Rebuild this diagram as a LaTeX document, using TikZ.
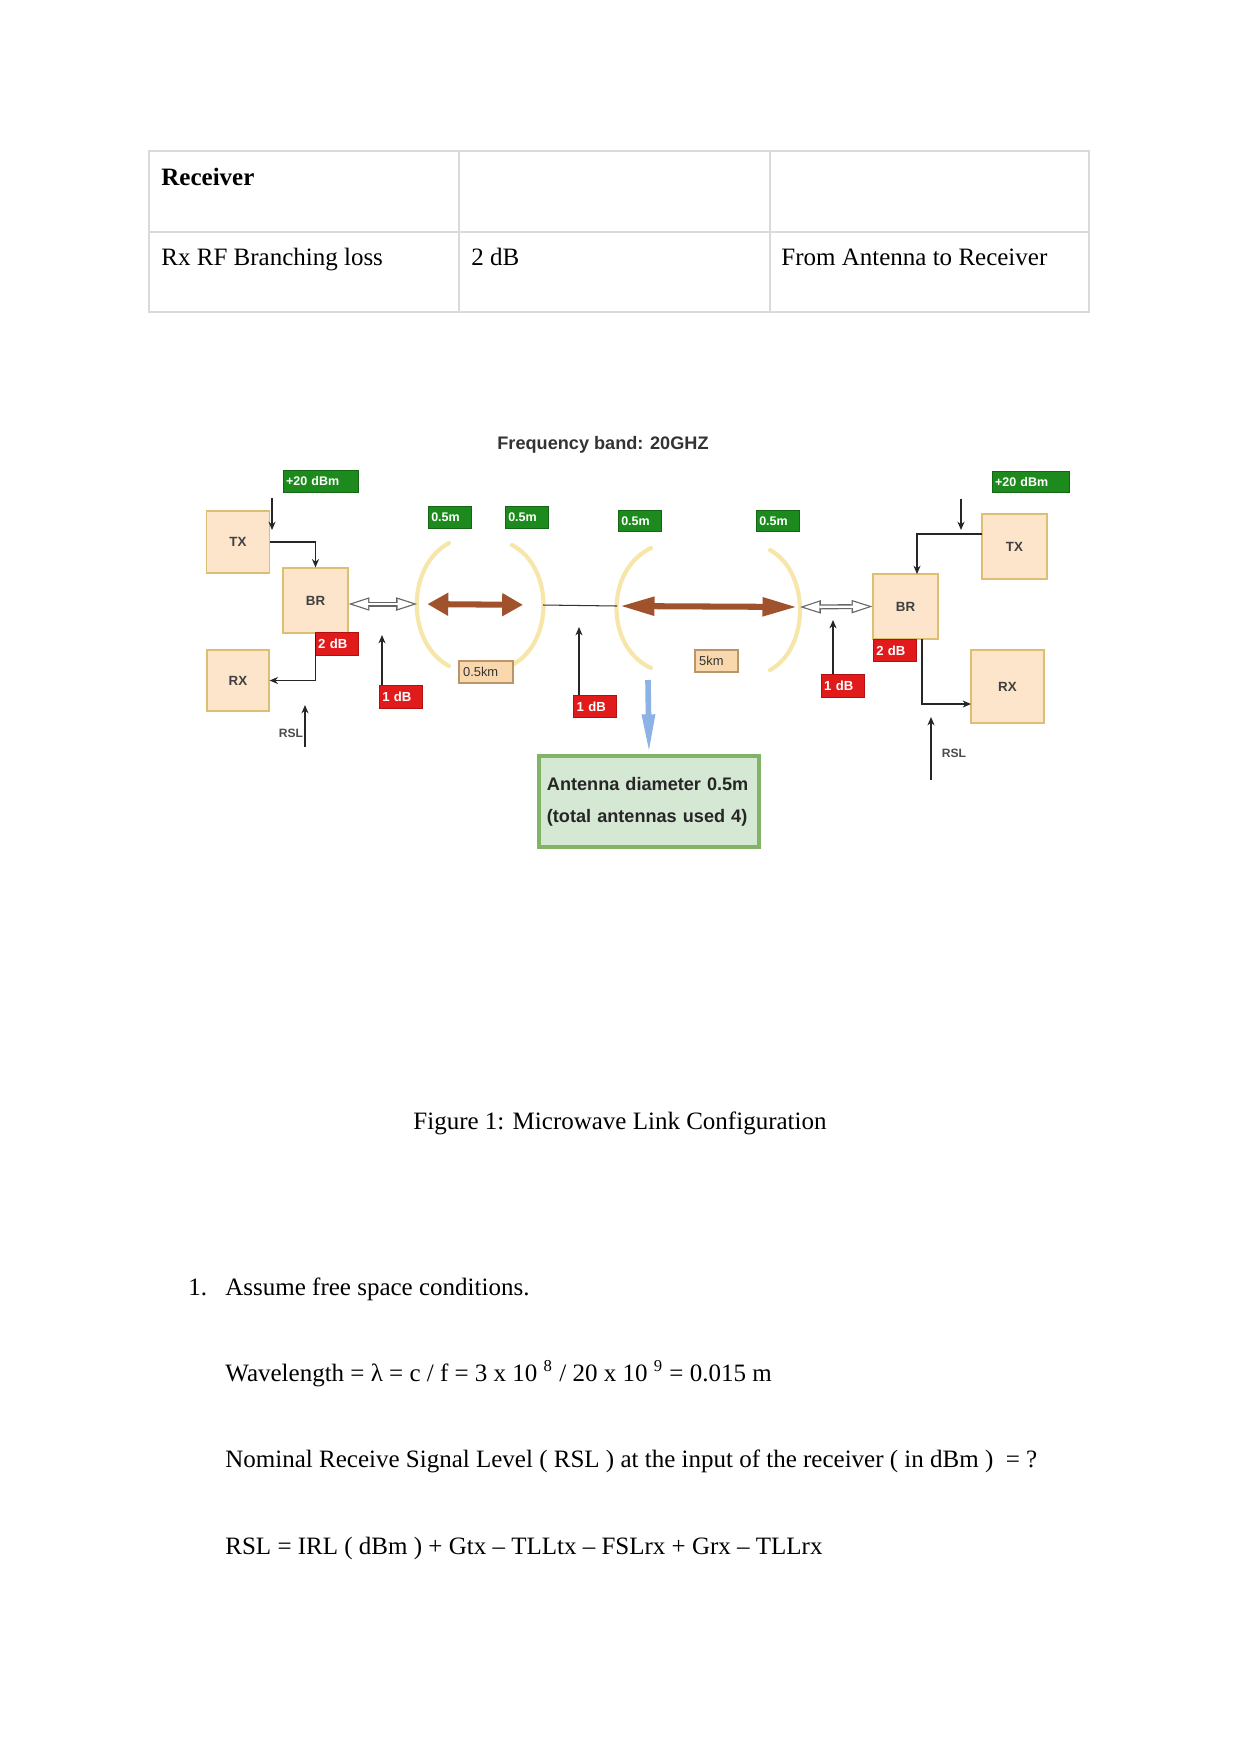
\documentclass[tikz,border=0pt]{standalone}
\usepackage{fontspec}
\setmainfont{Liberation Serif}
\setsansfont{Liberation Sans}
\usepackage{tikz}
\usetikzlibrary{arrows.meta, positioning}

\definecolor{unitfill}{HTML}{FCE5CB}
\definecolor{unitline}{HTML}{DDBE72}
\definecolor{taggreen}{HTML}{1D8A1D}
\definecolor{taggreendk}{HTML}{146614}
\definecolor{tagred}{HTML}{E11B1B}
\definecolor{tagreddk}{HTML}{B01010}
\definecolor{dishcol}{HTML}{F7E6AA}
\definecolor{linkcol}{HTML}{A0522D}
\definecolor{notefill}{HTML}{D5E8D4}
\definecolor{noteline}{HTML}{82B366}
\definecolor{distfill}{HTML}{FAD8AE}
\definecolor{distline}{HTML}{B8966A}
\definecolor{beamcol}{HTML}{8DB2E6}
\definecolor{rulecol}{HTML}{DADADA}

\begin{document}
\begin{tikzpicture}[
    x=0.48pt, y=-0.48pt,
    >={Stealth[length=4pt,width=3.4pt]},
    font=\fontsize{12}{14}\selectfont,
    %% ── node styles ──────────────────────────────────────────
    pagetext/.style = {inner sep=0pt, anchor=base west},
    unitbox/.style  = {draw=unitline, fill=unitfill, line width=0.6pt, text=black!75,
                       font=\sffamily\bfseries\fontsize{6.4}{7}\selectfont},
    greentag/.style = {draw=taggreendk, fill=taggreen, text=white, inner sep=1.5pt,
                       minimum height=10.2pt, align=left,
                       font=\sffamily\bfseries\fontsize{6}{7}\selectfont},
    redtag/.style   = {greentag, draw=tagreddk, fill=tagred, minimum height=10.8pt,
                       font=\sffamily\bfseries\fontsize{6.3}{7}\selectfont},
    disttag/.style  = {draw=distline, fill=distfill, line width=0.6pt, inner sep=2pt,
                       minimum height=10.6pt, align=left, text=black!80,
                       font=\sffamily\fontsize{6.2}{7}\selectfont},
    notebox/.style  = {draw=noteline, fill=notefill, line width=2pt, inner sep=3.8pt,
                       minimum height=43.7pt, text width=98pt, align=left, text=black!85,
                       font=\sffamily\bfseries\fontsize{8.7}{15.4}\selectfont},
    rsltext/.style  = {inner sep=0pt, text=black!70,
                       font=\sffamily\bfseries\fontsize{5.8}{7}\selectfont},
    %% ── line styles ──────────────────────────────────────────
    sigarrow/.style = {->, draw=black!85, line width=0.6pt},
    dishline/.style = {draw=dishcol, line width=2pt, line cap=round},
    linkarrow/.style = {draw=linkcol, line width=2.9pt},
    shortlink/.style = {linkarrow,
                        arrows={Triangle[length=10pt,width=10.5pt]-Triangle[length=10pt,width=10.5pt]}},
    longlink/.style  = {linkarrow,
                        arrows={Triangle[length=16.5pt,width=8.5pt]-Triangle[length=16.5pt,width=8.5pt]}},
    hollowarrow/.style = {draw=black!60, line width=2.4pt,
                          arrows={Triangle[length=10pt,width=6.5pt,line width=0pt]-Triangle[length=10pt,width=6.5pt,line width=0pt]},
                          postaction={draw=white, line width=1.1pt, shorten <=1.9pt, shorten >=1.9pt,
                          arrows={Triangle[length=7.4pt,width=4.8pt,line width=0pt]-Triangle[length=7.4pt,width=4.8pt,line width=0pt]}}},
    beamarrow/.style = {draw=beamcol, line width=2.7pt, arrows={-Triangle[length=19pt,width=5.8pt]}},
    tablerule/.style = {draw=rulecol, line width=1pt}
]

%% ── page ─────────────────────────────────────────────────────
\fill[white] (0,0) rectangle (1241,1754);
\useasboundingbox (0,0) rectangle (1241,1754);

%% ── table ────────────────────────────────────────────────────
\draw[tablerule] (149,151) rectangle (1089,312);
\draw[tablerule] (149,232) -- (1089,232);
\draw[tablerule] (459,151) -- (459,312);
\draw[tablerule] (770,151) -- (770,312);

\node[pagetext] (cellRecv) at (161,185) {\bfseries Receiver};
\node[pagetext] (cellLoss) at (161,265) {Rx RF Branching loss};
\node[pagetext] (cellVal)  at (471,265) {2 dB};
\node[pagetext] (cellNote) at (781,265) {From Antenna to Receiver};

%% ── title ────────────────────────────────────────────────────
\node[text=black!80, font=\sffamily\bfseries\fontsize{8.7}{10}\selectfont]
    (band) at (603,445) {Frequency band: 20GHZ};

%% ── left terminal ────────────────────────────────────────────
\node[unitbox, minimum width=30.2pt, minimum height=29.8pt] (txL) at (238,542) {TX};
\node[unitbox, minimum size=31.2pt] (brL) at (315.5,600.5) {BR};
\node[unitbox, minimum width=29.8pt, minimum height=29.3pt] (rxL) at (238,680.5) {RX};

\node[greentag, text width=33pt]  (pwrL)    at (320.5,481.5) {+20 dBm};
\node[redtag, text width=17.6pt]  (brlossL) at (336.5,644)   {2 dB};
\node[redtag, text width=18pt]    (fdlossL) at (401,697)     {1 dB};
\node[rsltext] (rslL) at (291,733) {RSL};

\coordinate (pwrLin)  at (272,498);
\coordinate (pwrLend) at (272,530);
\coordinate (fdLtip)  at (382,635);
\coordinate (rslLin)  at (305,747);
\coordinate (rslLtip) at (305,705);

%% ── antennas and path ────────────────────────────────────────
\coordinate (ant1in)  at (417,604);
\coordinate (ant1out) at (543,605);
\coordinate (ant2in)  at (617,606);
\coordinate (ant2out) at (800,607);

\draw[dishline] (449,543) .. controls (406,566) and (406,643) .. (449,666);
\draw[dishline] (512,545) .. controls (554,567) and (554,643) .. (512,665);
\draw[dishline] (651,548) .. controls (605,570) and (605,647) .. (651,668);
\draw[dishline] (770,550) .. controls (810,572) and (810,648) .. (770,670);

\node[greentag, text width=18pt] (dia1) at (450,517.5) {0.5m};
\node[greentag, text width=18pt] (dia2) at (527,517.5) {0.5m};
\node[greentag, text width=18pt] (dia3) at (640,521)   {0.5m};
\node[greentag, text width=18pt] (dia4) at (778,521)   {0.5m};

\node[disttag, text width=22pt]   (feedL) at (486,672)   {0.5km};
\node[disttag, text width=16.6pt] (hop)   at (716.5,661) {5km};
\node[redtag, text width=17.6pt]  (fdlossM) at (595,706.5) {1 dB};
\coordinate (fdMtip) at (579,627);

\node[notebox] (note) at (649,801.5) {Antenna diameter 0.5m\\(total antennas used 4)};
\coordinate (beamTop) at (648,680);

%% ── right terminal ───────────────────────────────────────────
\node[unitbox, minimum size=31.2pt] (brR) at (905.5,606.5) {BR};
\node[unitbox, minimum size=31.2pt] (txR) at (1014.5,546.5) {TX};
\node[unitbox, minimum size=35pt]   (rxR) at (1007.5,686.5) {RX};

\node[greentag, text width=34pt]  (pwrR)    at (1030.5,482) {+20 dBm};
\node[redtag, text width=18pt]    (brlossR) at (895,650.5)  {2 dB};
\node[redtag, text width=17.6pt]  (fdlossR) at (842.5,686)  {1 dB};
\node[rsltext] (rslR) at (954,753) {RSL};

\coordinate (pwrRin)  at (961,499);
\coordinate (pwrRend) at (961,530);
\coordinate (fdRtip)  at (833,620);
\coordinate (rslRin)  at (931,780);
\coordinate (rslRtip) at (931,717);
\coordinate (txRout)  at (982,534);
\coordinate (brRin)   at (917,574);
\coordinate (brRout)  at (922,639);
\coordinate (rxRin)   at (971,704);

%% ── arrows: left terminal ────────────────────────────────────
\draw[sigarrow] (pwrLin) -- (pwrLend);
\draw[sigarrow] (txL.east) -| (brL.north);
\draw[sigarrow] (brL.south) |- (rxL.east);
\draw[sigarrow] (rslLin) -- (rslLtip);
\draw[sigarrow] (fdLtip |- fdlossL.north) -- (fdLtip);
\draw[hollowarrow] (brL.east |- ant1in) -- (ant1in);

%% ── arrows: path ─────────────────────────────────────────────
\draw[shortlink, shorten <=5pt, shorten >=9.6pt] (ant1in) -- (ant1out);
\draw[draw=black!80, line width=0.5pt] (ant1out) -- (ant2in);
\draw[longlink, shorten <=1.5pt, shorten >=1.5pt] (ant2in) -- (ant2out);
\draw[sigarrow] (fdMtip |- fdlossM.north) -- (fdMtip);
\draw[beamarrow] (beamTop) -- (note.north);

%% ── arrows: right terminal ───────────────────────────────────
\draw[hollowarrow] (ant2out) -- (brR.west);
\draw[sigarrow] (fdRtip |- fdlossR.north) -- (fdRtip);
\draw[sigarrow] (pwrRin) -- (pwrRend);
\draw[sigarrow] (txRout) -| (brRin);
\draw[sigarrow] (brRout) |- (rxRin);
\draw[sigarrow] (rslRin) -- (rslRtip);

%% ── caption and text ─────────────────────────────────────────
\node[pagetext, anchor=base] (caption) at (620,1129) {Figure 1: Microwave Link Configuration};

\node[pagetext] (itemNum)  at (188,1295) {1.};
\node[pagetext] (itemText) at (225,1295) {Assume free space conditions.};
\node[pagetext] (lambdaLine) at (225,1381)
    {Wavelength = λ = c / f = 3 x 10 \textsuperscript{8} / 20 x 10 \textsuperscript{9} = 0.015 m};
\node[pagetext] (rslAsk) at (225,1467)
    {Nominal Receive Signal Level ( RSL ) at the input of the receiver ( in dBm )~~= ?};
\node[pagetext] (rslSum) at (225,1554)
    {RSL = IRL ( dBm ) + Gtx -- TLLtx -- FSLrx + Grx -- TLLrx};

\end{tikzpicture}
\end{document}
